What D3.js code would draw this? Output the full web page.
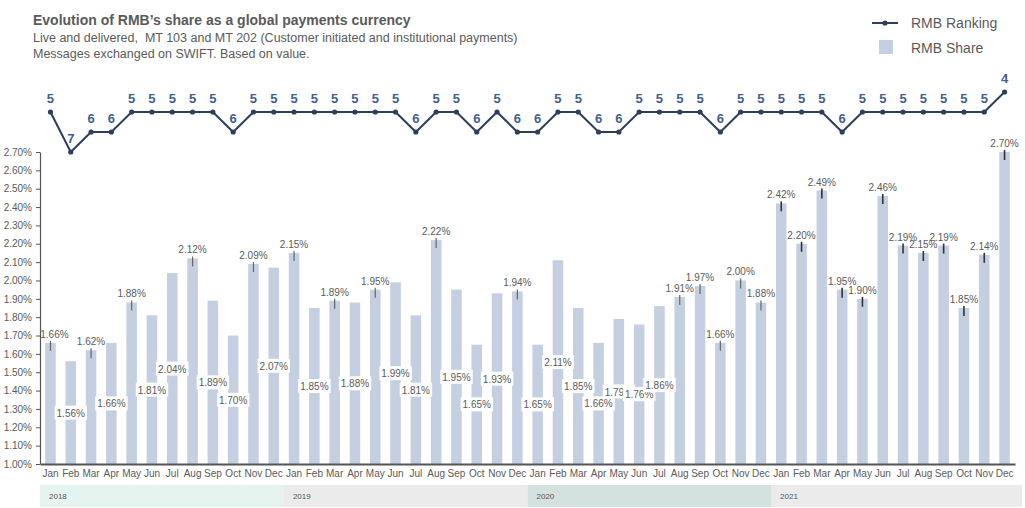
<!DOCTYPE html>
<html>
<head>
<meta charset="utf-8">
<script src="https://cdn.jsdelivr.net/npm/d3@7"></script>
<style>
  html, body { margin: 0; padding: 0; background: #fff; }
  svg { display: block; font-family: "Liberation Sans", Arial, sans-serif; }
</style>
</head>
<body>
<svg id="chart" width="1025" height="508"></svg>
<script>
// ---------- DATA ----------
const months = ["Jan","Feb","Mar","Apr","May","Jun","Jul","Aug","Sep","Oct","Nov","Dec",
                "Jan","Feb","Mar","Apr","May","Jun","Jul","Aug","Sep","Oct","Nov","Dec",
                "Jan","Feb","Mar","Apr","May","Jun","Jul","Aug","Sep","Oct","Nov","Dec",
                "Jan","Feb","Mar","Apr","May","Jun","Jul","Aug","Sep","Oct","Nov","Dec"];
const years = ["2018","2019","2020","2021"];
const share = [1.66,1.56,1.62,1.66,1.88,1.81,2.04,2.12,1.89,1.70,2.09,2.07,
               2.15,1.85,1.89,1.88,1.95,1.99,1.81,2.22,1.95,1.65,1.93,1.94,
               1.65,2.11,1.85,1.66,1.79,1.76,1.86,1.91,1.97,1.66,2.00,1.88,
               2.42,2.20,2.49,1.95,1.90,2.46,2.19,2.15,2.19,1.85,2.14,2.70];
const ranking = [5,7,6,6,5,5,5,5,5,6,5,5,
                 5,5,5,5,5,5,6,5,5,6,5,6,
                 6,5,5,6,6,5,5,5,5,6,5,5,
                 5,5,5,6,5,5,5,5,5,5,5,4];
// label placement: "t" = above bar with leader, "m" = middle of bar with white box
const labelPos = ["t","m","t","m","t","m","m","t","m","m","t","m",
                  "t","m","t","m","t","m","m","t","m","m","m","t",
                  "m","m","m","m","m","m","m","t","t","t","t","t",
                  "t","t","t","t","t","t","t","t","t","t","t","t"];
const yTicks = [1.0,1.1,1.2,1.3,1.4,1.5,1.6,1.7,1.8,1.9,2.0,2.1,2.2,2.3,2.4,2.5,2.6,2.7];

// ---------- STYLE ----------
const textGray = "#5a5a5a";
const barColor = "#c4cfe1";
const lineColor = "#2e3f5c";
const rankLabelColor = "#3f5f91";
const yearBandColors = ["#e6f4f1","#ebebeb","#d4e2df","#ebebeb"];

const svg = d3.select("#chart");

// ---------- SCALES ----------
const x = d3.scaleBand().domain(d3.range(share.length)).range([40, 1015])
  .paddingInner(0.48).paddingOuter(0.255);
const y = d3.scaleLinear().domain([1.0, 2.7]).range([464, 152]);
const yr = d3.scaleLinear().domain([4, 7]).range([92, 152]);
const cx = i => x(i) + x.bandwidth() / 2;

// ---------- TITLE ----------
svg.append("text").attr("x", 33).attr("y", 25)
  .attr("font-size", 14).attr("font-weight", "bold").attr("fill", textGray)
  .text("Evolution of RMB\u2019s share as a global payments currency");
svg.append("text").attr("x", 33).attr("y", 42)
  .attr("font-size", 12.5).attr("fill", textGray)
  .attr("xml:space", "preserve")
  .text("Live and delivered,  MT 103 and MT 202 (Customer initiated and institutional payments)");
svg.append("text").attr("x", 33).attr("y", 58)
  .attr("font-size", 12.5).attr("fill", textGray)
  .text("Messages exchanged on SWIFT. Based on value.");

// ---------- LEGEND ----------
const lg = svg.append("g");
lg.append("line").attr("x1", 872).attr("x2", 898).attr("y1", 23).attr("y2", 23)
  .attr("stroke", lineColor).attr("stroke-width", 2);
lg.append("circle").attr("cx", 885).attr("cy", 23).attr("r", 2.6).attr("fill", lineColor);
lg.append("text").attr("x", 911).attr("y", 28).attr("font-size", 14).attr("fill", textGray).text("RMB Ranking");
lg.append("rect").attr("x", 879).attr("y", 40).attr("width", 14).attr("height", 14).attr("fill", barColor);
lg.append("text").attr("x", 911).attr("y", 53).attr("font-size", 14).attr("fill", textGray).text("RMB Share");

// ---------- BARS ----------
svg.append("g").selectAll("rect").data(share).join("rect")
  .attr("x", (d, i) => x(i)).attr("width", x.bandwidth())
  .attr("y", d => y(d)).attr("height", d => y(1.0) - y(d))
  .attr("fill", barColor);

// ---------- AXES ----------
const yAxis = svg.append("g").attr("transform", "translate(40,0)")
  .call(d3.axisLeft(y).tickValues(yTicks).tickSize(4).tickSizeOuter(0)
    .tickFormat(d => d.toFixed(2) + "%"));
yAxis.select(".domain").attr("stroke", "#555").attr("stroke-width", 1.2);
yAxis.selectAll(".tick line").attr("stroke", "#555");
yAxis.selectAll(".tick text").attr("font-size", 10).attr("fill", textGray)
  .attr("font-family", "Liberation Sans, Arial, sans-serif").attr("x", -8);

const xAxis = svg.append("g").attr("transform", "translate(0,464)")
  .call(d3.axisBottom(x).tickSize(0).tickSizeOuter(0).tickFormat(i => months[i]));
xAxis.select(".domain").attr("stroke", "#555").attr("stroke-width", 2);
xAxis.selectAll(".tick text").attr("font-size", 10).attr("fill", textGray)
  .attr("font-family", "Liberation Sans, Arial, sans-serif").attr("dy", "0.71em").attr("y", 6);

// ---------- YEAR BANDS ----------
const half = x.step() * x.paddingInner() / 2;
const bandEdges = [40, x(12) - half, x(24) - half, x(36) - half, 1022];
const yb = svg.append("g");
years.forEach((yrLabel, k) => {
  yb.append("rect").attr("x", bandEdges[k]).attr("y", 485)
    .attr("width", bandEdges[k + 1] - bandEdges[k]).attr("height", 22)
    .attr("fill", yearBandColors[k]);
  yb.append("text").attr("x", bandEdges[k] + 9).attr("y", 499)
    .attr("font-size", 8).attr("fill", "#555").text(yrLabel);
});

// ---------- VALUE LABELS ----------
const lab = svg.append("g");
share.forEach((v, i) => {
  const txt = v.toFixed(2) + "%";
  if (labelPos[i] === "t") {
    lab.append("line").attr("x1", cx(i)).attr("x2", cx(i))
      .attr("y1", y(v) - 2).attr("y2", y(v) + 8)
      .attr("stroke", i >= 36 ? "#333" : "#666").attr("stroke-width", i >= 36 ? 1.6 : 1.2);
    lab.append("text").attr("x", cx(i) + (i === 0 ? 4 : 0)).attr("y", y(v) - 5)
      .attr("text-anchor", "middle").attr("font-size", 10).attr("fill", textGray).text(txt);
  } else {
    const my = (y(v) + y(1.0)) / 2;
    const t = lab.append("text").attr("x", cx(i)).attr("y", my + 4)
      .attr("text-anchor", "middle").attr("font-size", 10).attr("fill", textGray).text(txt);
    const bb = t.node().getBBox();
    lab.insert("rect", () => t.node()).attr("x", bb.x - 2).attr("y", my - 7)
      .attr("width", bb.width + 4).attr("height", 14).attr("fill", "#fff");
  }
});

// ---------- RANKING LINE ----------
svg.append("path").datum(ranking)
  .attr("d", d3.line().x((d, i) => cx(i)).y(d => yr(d)))
  .attr("fill", "none").attr("stroke", lineColor).attr("stroke-width", 2);
svg.append("g").selectAll("circle").data(ranking).join("circle")
  .attr("cx", (d, i) => cx(i)).attr("cy", d => yr(d)).attr("r", 2.6).attr("fill", lineColor);
svg.append("g").selectAll("text").data(ranking).join("text")
  .attr("x", (d, i) => cx(i)).attr("y", d => yr(d) - 9)
  .attr("text-anchor", "middle").attr("font-size", 13).attr("font-weight", "bold")
  .attr("fill", rankLabelColor).text(d => d);
</script>
</body>
</html>
